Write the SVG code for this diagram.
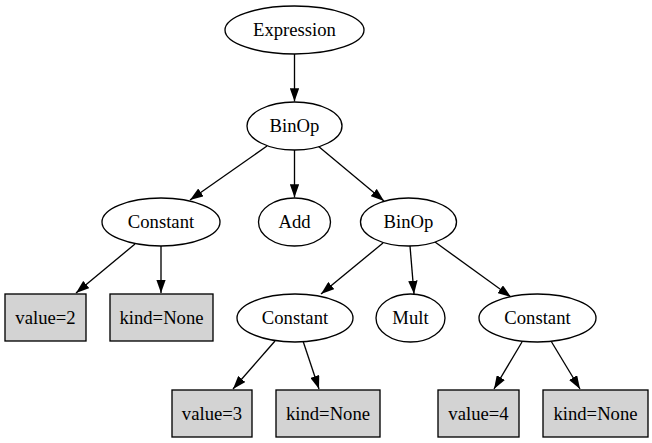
<svg xmlns="http://www.w3.org/2000/svg" width="652" height="443" viewBox="0 0 652 443">
<style>
.n ellipse{fill:#fff;stroke:#000;stroke-width:1.33}
.n rect{fill:#d3d3d3;stroke:#000;stroke-width:1.33}
text{font-family:'Liberation Serif','Times New Roman',Times,serif;font-size:18.67px;text-anchor:middle;fill:#000}
#edges line{stroke:#000;stroke-width:1.33;marker-end:url(#ah)}
</style>
<defs>
<marker id="ah" viewBox="0 0 13.3 9.4" refX="13.3" refY="4.7" markerWidth="13.3" markerHeight="9.4" markerUnits="userSpaceOnUse" orient="auto">
<path d="M0,0 L13.3,4.7 L0,9.4 z" fill="#000"/>
</marker>
</defs>
<rect width="652" height="443" fill="#fff"/>
<g id="edges">
<line x1="294.5" y1="54" x2="294.5" y2="101.5"/>
<line x1="267" y1="146" x2="190" y2="200"/>
<line x1="294.5" y1="150" x2="294.5" y2="197.5"/>
<line x1="318" y1="146" x2="384" y2="201"/>
<line x1="135" y1="244" x2="76" y2="293"/>
<line x1="161" y1="246" x2="161" y2="293"/>
<line x1="383" y1="243" x2="321" y2="294"/>
<line x1="410" y1="246" x2="414" y2="294"/>
<line x1="435" y1="242" x2="511" y2="297"/>
<line x1="275" y1="341" x2="233" y2="389"/>
<line x1="303" y1="341" x2="319" y2="389"/>
<line x1="522" y1="342" x2="494" y2="389"/>
<line x1="551" y1="341" x2="580" y2="389"/>
</g>
<g id="expression" class="n"><ellipse cx="294.5" cy="30" rx="69.5" ry="24"/><text x="294.5" y="36" font-family="Liberation Serif, serif">Expression</text></g>
<g id="binop1" class="n"><ellipse cx="294.5" cy="126" rx="47.5" ry="24"/><text x="294.5" y="132">BinOp</text></g>
<g id="constant1" class="n"><ellipse cx="161" cy="222" rx="59" ry="24"/><text x="161" y="228">Constant</text></g>
<g id="add" class="n"><ellipse cx="294.5" cy="222" rx="36" ry="24"/><text x="294.5" y="228">Add</text></g>
<g id="binop2" class="n"><ellipse cx="408.5" cy="222" rx="48" ry="24"/><text x="408.5" y="228">BinOp</text></g>
<g id="value2" class="n"><rect x="5" y="294" width="81" height="47"/><text x="45.5" y="324">value=2</text></g>
<g id="kind1" class="n"><rect x="110" y="294" width="103" height="47"/><text x="161.5" y="324">kind=None</text></g>
<g id="constant2" class="n"><ellipse cx="295" cy="318" rx="58" ry="24"/><text x="295" y="324">Constant</text></g>
<g id="mult" class="n"><ellipse cx="410.5" cy="318" rx="34.5" ry="24"/><text x="410.5" y="324">Mult</text></g>
<g id="constant3" class="n"><ellipse cx="537.5" cy="318" rx="58.5" ry="24"/><text x="537.5" y="324">Constant</text></g>
<g id="value3" class="n"><rect x="172" y="390" width="80" height="47"/><text x="212" y="420">value=3</text></g>
<g id="kind2" class="n"><rect x="276" y="390" width="104" height="47"/><text x="328" y="420">kind=None</text></g>
<g id="value4" class="n"><rect x="438" y="390" width="81" height="47"/><text x="478.5" y="420">value=4</text></g>
<g id="kind3" class="n"><rect x="543" y="390" width="105" height="47"/><text x="595.5" y="420">kind=None</text></g>
</svg>
